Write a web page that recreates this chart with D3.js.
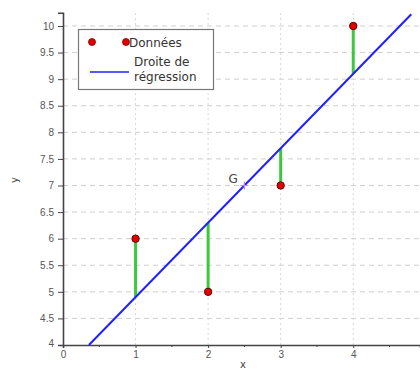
<!DOCTYPE html>
<html>
<head>
<meta charset="utf-8">
<script src="https://cdn.jsdelivr.net/npm/d3@7"></script>
<style>
  body { margin: 0; background: #fff; }
  svg { font-family: "DejaVu Sans", sans-serif; }
</style>
</head>
<body>
<div id="main"></div>
<script>
var xs = [1, 2, 3, 4];
var ys = [6, 5, 7, 10];
var xTicks = [0, 1, 2, 3, 4];
var yTicks = [4, 4.5, 5, 5.5, 6, 6.5, 7, 7.5, 8, 8.5, 9, 9.5, 10];
var legendLabels = ['Données', ['Droite de', 'régression']];

// least squares fit
var mx = d3.mean(xs), my = d3.mean(ys);
var slope = d3.sum(xs, function(d, i) { return (d - mx) * (ys[i] - my); }) /
            d3.sum(xs, function(d) { return (d - mx) * (d - mx); });
var icpt = my - slope * mx;
function fit(x) { return slope * x + icpt; }

var width = 420, height = 370;
var svg = d3.select('#main').append('svg')
  .attr('width', width)
  .attr('height', height);

var x = d3.scaleLinear().domain([0, 4.92]).range([63, 420]);
var y = d3.scaleLinear().domain([4, 10.25]).range([345, 12.7]);

// grid
svg.append('g').selectAll('line')
  .data(yTicks.slice(1))
  .enter().append('line')
  .attr('x1', x(0)).attr('x2', width)
  .attr('y1', function(d) { return y(d); })
  .attr('y2', function(d) { return y(d); })
  .attr('stroke', '#cfcfcf')
  .attr('stroke-dasharray', '5,4');

svg.append('g').selectAll('line')
  .data(xTicks.slice(1))
  .enter().append('line')
  .attr('x1', function(d) { return x(d); })
  .attr('x2', function(d) { return x(d); })
  .attr('y1', y(4)).attr('y2', y(10.25))
  .attr('stroke', '#d8d8d8')
  .attr('stroke-dasharray', '2,3');

// axes
var xAxis = svg.append('g')
  .attr('transform', 'translate(0,' + y(4) + ')')
  .call(d3.axisBottom(x).tickValues(xTicks).tickSize(3).tickPadding(3).tickFormat(d3.format('d')));
svg.append('g')
  .attr('transform', 'translate(0,' + y(4) + ')')
  .selectAll('line')
  .data([0.5, 1.5, 2.5, 3.5, 4.5])
  .enter().append('line')
  .attr('x1', function(d) { return x(d); })
  .attr('x2', function(d) { return x(d); })
  .attr('y1', 0).attr('y2', 2)
  .attr('stroke', '#444');

var yAxis = svg.append('g')
  .attr('transform', 'translate(' + x(0) + ',0)')
  .call(d3.axisLeft(y).tickValues(yTicks).tickSize(5).tickPadding(4).tickFormat(d3.format('')));

[xAxis, yAxis].forEach(function(a) {
  a.select('.domain').attr('stroke', '#444').attr('stroke-width', 1.6);
  a.selectAll('.tick line').attr('stroke', '#444');
  a.selectAll('.tick text').attr('fill', '#555').style('font-size', '10px');
});
yAxis.select('.tick:first-of-type text').attr('dy', '0.1em');

// axis titles
svg.append('text')
  .attr('transform', 'translate(18,180) rotate(-90)')
  .attr('text-anchor', 'middle')
  .attr('fill', '#444')
  .style('font-size', '10px')
  .text('y');
svg.append('text')
  .attr('x', 243).attr('y', 368)
  .attr('text-anchor', 'middle')
  .attr('fill', '#444')
  .style('font-size', '10px')
  .text('x');

// residuals
svg.append('g').selectAll('line')
  .data(xs)
  .enter().append('line')
  .attr('x1', function(d) { return x(d); })
  .attr('x2', function(d) { return x(d); })
  .attr('y1', function(d, i) { return y(ys[i]); })
  .attr('y2', function(d) { return y(fit(d)); })
  .attr('stroke', '#3cc83c')
  .attr('stroke-width', 3);

// regression line
var x0 = (4 - icpt) / slope, x1 = 4.8;
svg.append('line')
  .attr('x1', x(x0)).attr('y1', y(fit(x0)))
  .attr('x2', x(x1)).attr('y2', y(fit(x1)))
  .attr('stroke', '#2020ff')
  .attr('stroke-width', 2);

// centroid G
svg.append('path')
  .attr('d', 'M' + (x(mx) - 4) + ',' + y(my) + 'h8M' + x(mx) + ',' + (y(my) - 4) + 'v8')
  .attr('stroke', '#c080ff')
  .attr('stroke-width', 1.2);
svg.append('text')
  .attr('x', x(mx) - 16).attr('y', y(my) - 2)
  .attr('fill', '#444')
  .style('font-size', '12px')
  .text('G');

// points
svg.append('g').selectAll('circle')
  .data(xs)
  .enter().append('circle')
  .attr('cx', function(d) { return x(d); })
  .attr('cy', function(d, i) { return y(ys[i]); })
  .attr('r', 3.7)
  .attr('fill', '#e00000')
  .attr('stroke', '#600')
  .attr('stroke-width', 1);

// legend
var lg = svg.append('g');
lg.append('rect')
  .attr('x', 78.5).attr('y', 29.5)
  .attr('width', 135).attr('height', 60)
  .attr('fill', '#fff')
  .attr('stroke', '#777')
  .attr('stroke-width', 1.2);
[92, 126].forEach(function(cx) {
  lg.append('circle')
    .attr('cx', cx).attr('cy', 42).attr('r', 3.5)
    .attr('fill', '#e00000').attr('stroke', '#800').attr('stroke-width', 0.8);
});
lg.append('text')
  .attr('x', 129).attr('y', 46.5)
  .attr('fill', '#333')
  .style('font-size', '12px')
  .text(legendLabels[0]);
lg.append('line')
  .attr('x1', 90).attr('x2', 129)
  .attr('y1', 72).attr('y2', 72)
  .attr('stroke', '#2020ff').attr('stroke-width', 1.6);
lg.append('text')
  .attr('fill', '#333')
  .style('font-size', '12px')
  .selectAll('tspan')
  .data(legendLabels[1])
  .enter().append('tspan')
  .attr('x', 134)
  .attr('y', function(d, i) { return 66 + i * 15; })
  .text(function(d) { return d; });
</script>
</body>
</html>
